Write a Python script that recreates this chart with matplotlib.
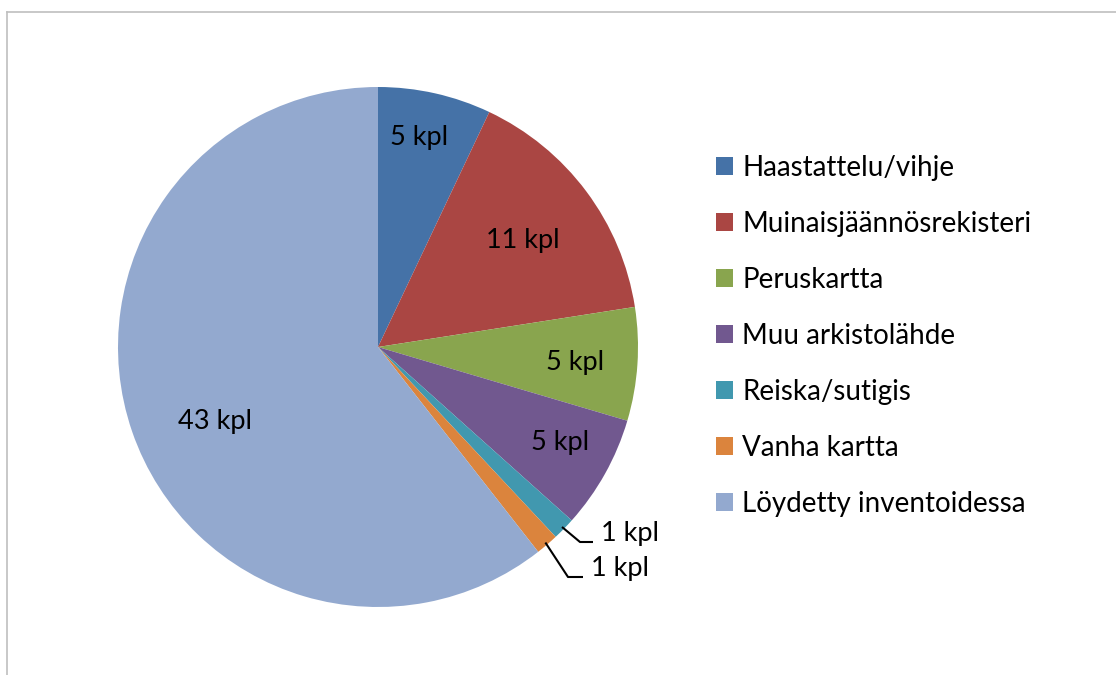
import numpy as np
import matplotlib
matplotlib.use("Agg")
import matplotlib.pyplot as plt
from matplotlib.patches import Patch
from matplotlib.lines import Line2D

categories = ["Haastattelu/vihje", "Muinaisjäännösrekisteri", "Peruskartta",
              "Muu arkistolähde", "Reiska/sutigis", "Vanha kartta",
              "Löydetty inventoidessa"]
values = [5, 11, 5, 5, 1, 1, 43]
labels = [f"{v} kpl" for v in values]
colors = ["#4572A7", "#AA4643", "#89A54E", "#71588F", "#4198AF", "#DB843D", "#93A9CF"]

W, H = 1116, 675
fig = plt.figure(figsize=(W / 100, H / 100), dpi=100)
plt.rcParams['font.family'] = ['Lato', 'DejaVu Sans']

cx, cy, R = 378, 347, 260
ax = fig.add_axes([(cx - R) / W, 1 - (cy + R) / H, 2 * R / W, 2 * R / H])
wedges, _ = ax.pie(values, colors=colors, startangle=90, counterclock=False,
                   radius=1.0, wedgeprops=dict(linewidth=0))
ax.set_xlim(-1, 1)
ax.set_ylim(-1, 1)
ax.set_aspect('equal')
ax.axis('off')

total = sum(values)
# label placement style: radius fraction and angular nudge (degrees)
inner_r = [0.82, 0.69, 0.76, 0.79, None, None, 0.69]
ang_nudge = [1.6, -0.4, -0.8, 1.4, 0, 0, 5.4]
fs = 19.5
lfs = 20
cum = 0
for i, v in enumerate(values):
    mid_deg = 90 - (cum + v / 2) / total * 360
    cum += v
    if inner_r[i] is not None:
        r = inner_r[i]
        a = np.deg2rad(mid_deg + ang_nudge[i])
        ax.text(r * np.cos(a), r * np.sin(a), labels[i], ha='center', va='center',
                fontsize=fs, color='#000000')
    else:
        mid = np.deg2rad(mid_deg)
        ex, ey = np.cos(mid), np.sin(mid)
        if i == 4:
            elbow = ((580 - cx) / R, -(542 - cy) / R)
            end = ((593 - cx) / R, -(542 - cy) / R)
        else:
            elbow = ((568 - cx) / R, -(577 - cy) / R)
            end = ((583 - cx) / R, -(577 - cy) / R)
        ax.plot([ex * 0.99, elbow[0], end[0]], [ey * 0.99, elbow[1], end[1]],
                color='black', lw=1.5, clip_on=False, solid_capstyle='butt')
        ax.text(end[0] + 8 / R, end[1] + 1 / R, labels[i], ha='left', va='baseline',
                fontsize=fs, color='#000000', clip_on=False)

handles = [Patch(facecolor=c, edgecolor='none') for c in colors]
leg = fig.legend(handles, categories, loc='upper left',
                 bbox_to_anchor=(716 / W, 1 - 155 / H), frameon=False,
                 fontsize=lfs, handlelength=0.62, handleheight=0.62,
                 handletextpad=0.32, labelspacing=1.08, borderaxespad=0,
                 borderpad=0)

fig.add_artist(Line2D([6.5 / W, 1], [1 - 11.5 / H, 1 - 11.5 / H], color='#BFBFBF', lw=1.2))
fig.add_artist(Line2D([6.5 / W, 6.5 / W], [0, 1 - 11.5 / H], color='#BFBFBF', lw=1.2))

fig.savefig("out.png", dpi=100, facecolor='white')
